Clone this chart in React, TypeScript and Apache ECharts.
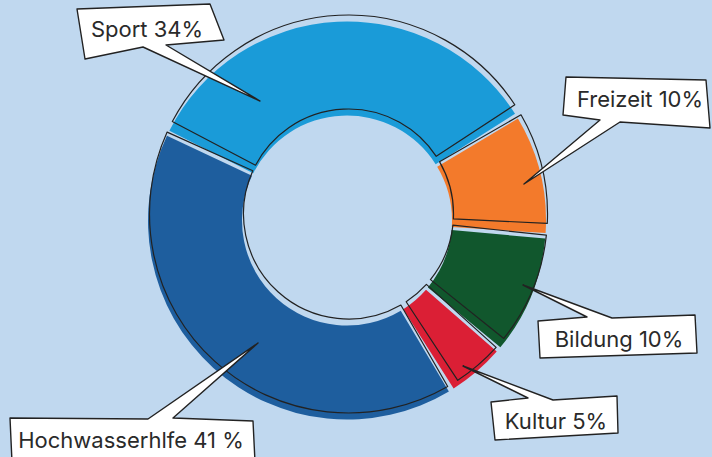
import React, { useEffect, useRef } from "react";
import * as echarts from "echarts";

// ---- data ----
const categories = ["Sport", "Freizeit", "Bildung", "Kultur", "Hochwasserhlfe"];
const values = [34, 10, 10, 5, 41];
const labelTexts = ["Sport 34%", "Freizeit 10%", "Bildung 10%", "Kultur 5%", "Hochwasserhlfe 41 %"];

// ---- styles / layout ----
const colors = ["#1A9BD8", "#F37A2B", "#11572D", "#DB1F35", "#1E5E9E"];
const BG = "#C0D8EF";
const INK = "#222222";

// callout bubbles (box outline with the tail inserted), and text centre
const calloutShapes: number[][][] = [
  [[77, 9], [210, 4], [224, 40], [166, 45], [260, 101], [143, 47], [85, 59]],
  [[566, 77], [706, 80], [710, 128], [620, 122], [524, 184], [600, 120], [563, 115]],
  [[538, 321], [587, 317], [523, 285], [612, 318], [695, 315], [697, 353], [540, 358]],
  [[491, 402], [528, 398], [463, 366], [553, 400], [617, 396], [618, 433], [495, 440]],
  [[10, 418], [148, 419], [258, 343], [173, 418], [253, 421], [255, 462], [12, 462]],
];
const calloutTextPos: number[][] = [
  [147, 29],
  [640, 99],
  [619, 339],
  [556, 421],
  [131, 440],
];

export default function App() {
  const ref = useRef<HTMLDivElement>(null);
  useEffect(() => {
    document.body.style.margin = "0";
    if (!ref.current) return;
    const chart = echarts.init(ref.current, undefined, { renderer: "svg" });
    const pieData = categories.map((c, i) => ({
      name: c,
      value: values[i],
      itemStyle: { color: colors[i] },
    }));
    const outlineData = categories.map((c, i) => ({ name: c, value: values[i] }));

    const graphics: any[] = [];
    calloutShapes.forEach((pts, i) => {
      graphics.push({
        type: "polygon",
        z: 100,
        shape: { points: pts },
        style: { fill: "#ffffff", stroke: INK, lineWidth: 1.4, lineJoin: "round" },
      });
      graphics.push({
        type: "text",
        z: 101,
        x: calloutTextPos[i][0],
        y: calloutTextPos[i][1],
        style: {
          text: labelTexts[i],
          fontSize: 22,
          fontFamily: "Inter, 'Noto Sans', sans-serif",
          fontWeight: 400,
          fill: "#2a2a2a",
          align: "center",
          verticalAlign: "middle",
          textAlign: "center",
          textVerticalAlign: "middle",
        },
      });
    });

    chart.setOption({
      animation: false,
      backgroundColor: BG,
      series: [
        {
          type: "pie",
          silent: true,
          center: [347, 220.5],
          radius: [105, 199],
          startAngle: 154,
          clockwise: true,
          padAngle: 1.6,
          label: { show: false },
          labelLine: { show: false },
          emphasis: { disabled: true },
          itemStyle: { borderWidth: 0 },
          data: pieData,
        },
        {
          type: "pie",
          silent: true,
          center: [348.5, 214],
          radius: [105, 199],
          startAngle: 154,
          clockwise: true,
          padAngle: 3.4,
          label: { show: false },
          labelLine: { show: false },
          emphasis: { disabled: true },
          itemStyle: { color: "rgba(0,0,0,0)", borderColor: INK, borderWidth: 1.2 },
          data: outlineData,
        },
      ],
      graphic: graphics,
    });
    return () => chart.dispose();
  }, []);
  return <div ref={ref} style={{ width: 712, height: 457, background: BG }} />;
}
